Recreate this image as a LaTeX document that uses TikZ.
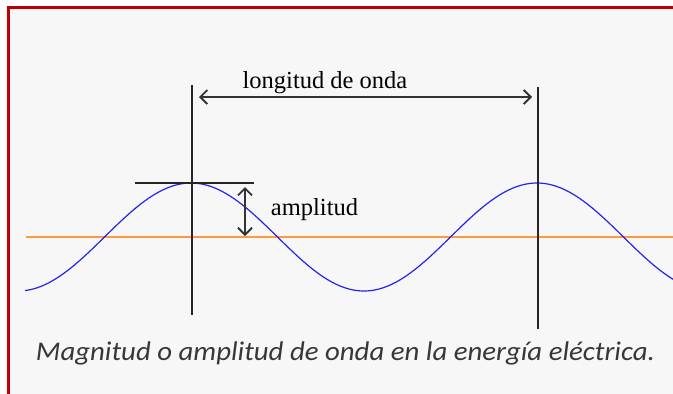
\documentclass[tikz,border=0pt]{standalone}
\usepackage{fontspec}
\setmainfont{Liberation Serif}
\newfontfamily\capfont{Carlito}
\usepackage{xcolor}
\definecolor{framered}{HTML}{C00000}
\definecolor{bggray}{HTML}{F7F7F7}
\definecolor{waveblue}{HTML}{2424F0}
\definecolor{axisorange}{HTML}{FF9A3C}
\usetikzlibrary{arrows.meta}

\begin{document}
\begin{tikzpicture}[
  x=1pt, y=-1pt,
  wave/.style={draw=waveblue, line width=1.2pt},
  axis/.style={draw=axisorange, line width=1.6pt},
  marker/.style={draw=black!85, line width=1.5pt},
  measure/.style={draw=black!80, line width=1.6pt, {Straight Barb[length=7pt,width=14pt,line width=1.8pt]}-{Straight Barb[length=7pt,width=14pt,line width=1.8pt]}},
  label/.style={font=\fontsize{24.5}{26}\selectfont, inner sep=1pt, anchor=base},
  caption/.style={font=\capfont\itshape\fontsize{27}{30}\selectfont, text=black!78, inner sep=1pt, anchor=base, xscale=1.067}
]
\useasboundingbox (0,0) rectangle (673,394);
\fill[bggray] (8,8) rectangle (673,394);
\draw[framered, line width=3pt] (8,394) -- (8,7.5) -- (673,7.5);

\coordinate (peakA) at (192,183);
\coordinate (peakB) at (538,183);
\coordinate (topA) at (192,85);
\coordinate (botA) at (192,315);
\coordinate (topB) at (538,87);
\coordinate (botB) at (538,329);

\draw[axis] (26,237) -- (673,237);
\draw[wave] plot[domain=25:673, samples=220] (\x, {237-54*cos(1.0405*(\x-191))});

\draw[marker] (topA) -- (botA);
\draw[marker] (topB) -- (botB);
\draw[marker] (135,183) -- (254,183);

\coordinate (ampTop) at (245,187);
\coordinate (ampBot) at (245,236);
\draw[measure] (ampTop) -- (ampBot);
\coordinate (lamA) at (199,97);
\coordinate (lamB) at (532,97);
\draw[measure] (lamA) -- (lamB);

\node[label] (lambda) at (325,88) {longitud de onda};
\node[label] (amp) at (314.5,215) {amplitud};
\node[caption] (cap) at (345.5,360) {Magnitud o amplitud de onda en la energía eléctrica.};
\end{tikzpicture}
\end{document}
